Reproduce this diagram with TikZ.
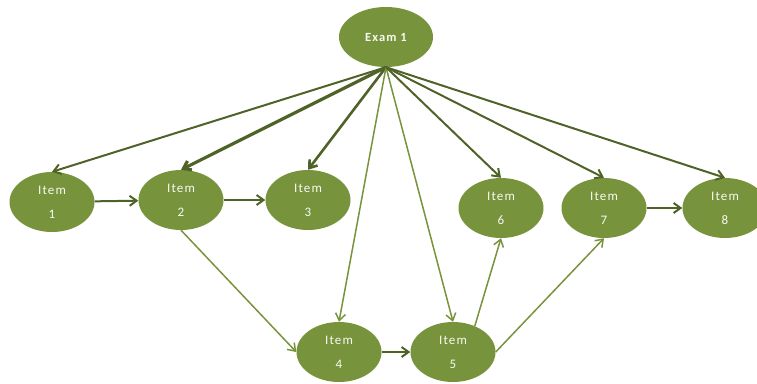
\documentclass[tikz,border=0pt]{standalone}
\usepackage{fontspec}
\setmainfont{Carlito}
\newfontfamily\itemfont[LetterSpace=9]{Carlito}
\usepackage{tikz}
\usetikzlibrary{arrows.meta,shapes.geometric,positioning}

\definecolor{olivefill}{HTML}{77933C}
\definecolor{olivedark}{HTML}{4F6228}

\begin{document}
\begin{tikzpicture}[x=1pt,y=-1pt,>={Straight Barb[length=7pt,width=10pt]}]
	\useasboundingbox (0,0) rectangle (757,383);
	\tikzset{every node/.style={ellipse,fill=olivefill,text=white!95!olivefill,
		minimum width=85pt,minimum height=60pt,inner sep=0pt,align=center,
		font=\itemfont\fontsize{13}{24}\selectfont}}
	\node[minimum width=94pt,font=\itemfont\bfseries\fontsize{12.5}{14}\selectfont] (exam) at (386,37) {Exam 1};
	\node (item1) at (52,202)  {Item\\1};
	\node (item2) at (181,200) {Item\\2};
	\node (item3) at (308,200) {Item\\3};
	\node (item4) at (339,352) {Item\\4};
	\node (item5) at (453,352) {Item\\5};
	\node (item6) at (501,208) {Item\\6};
	\node (item7) at (604,208) {Item\\7};
	\node (item8) at (725,208) {Item\\8};
	\tikzset{darkline/.style={->,draw=olivedark,line width=2pt}}
	\tikzset{lightline/.style={->,draw=olivefill,line width=1.5pt}}
	\path
	(exam.south) edge [darkline] (item1.north)
	(exam.south) edge [darkline,line width=3.2pt] (item2.north)
	(exam.south) edge [darkline,line width=2.6pt] (item3.north)
	(exam.south) edge [lightline] (item4.north)
	(exam.south) edge [lightline] (item5.north)
	(exam.south) edge [darkline] (item6.north)
	(exam.south) edge [darkline] (item7.north)
	(exam.south) edge [darkline] (item8.north)
	(item1) edge [darkline] (item2)
	(item2) edge [darkline] (item3)
	(item2.south) edge [lightline] (item4.west)
	(item4) edge [darkline] (item5)
	(item5.50) edge [lightline] (item6.south)
	(item5.east) edge [lightline] (item7.south)
	(item7) edge [darkline] (item8);
\end{tikzpicture}
\end{document}
